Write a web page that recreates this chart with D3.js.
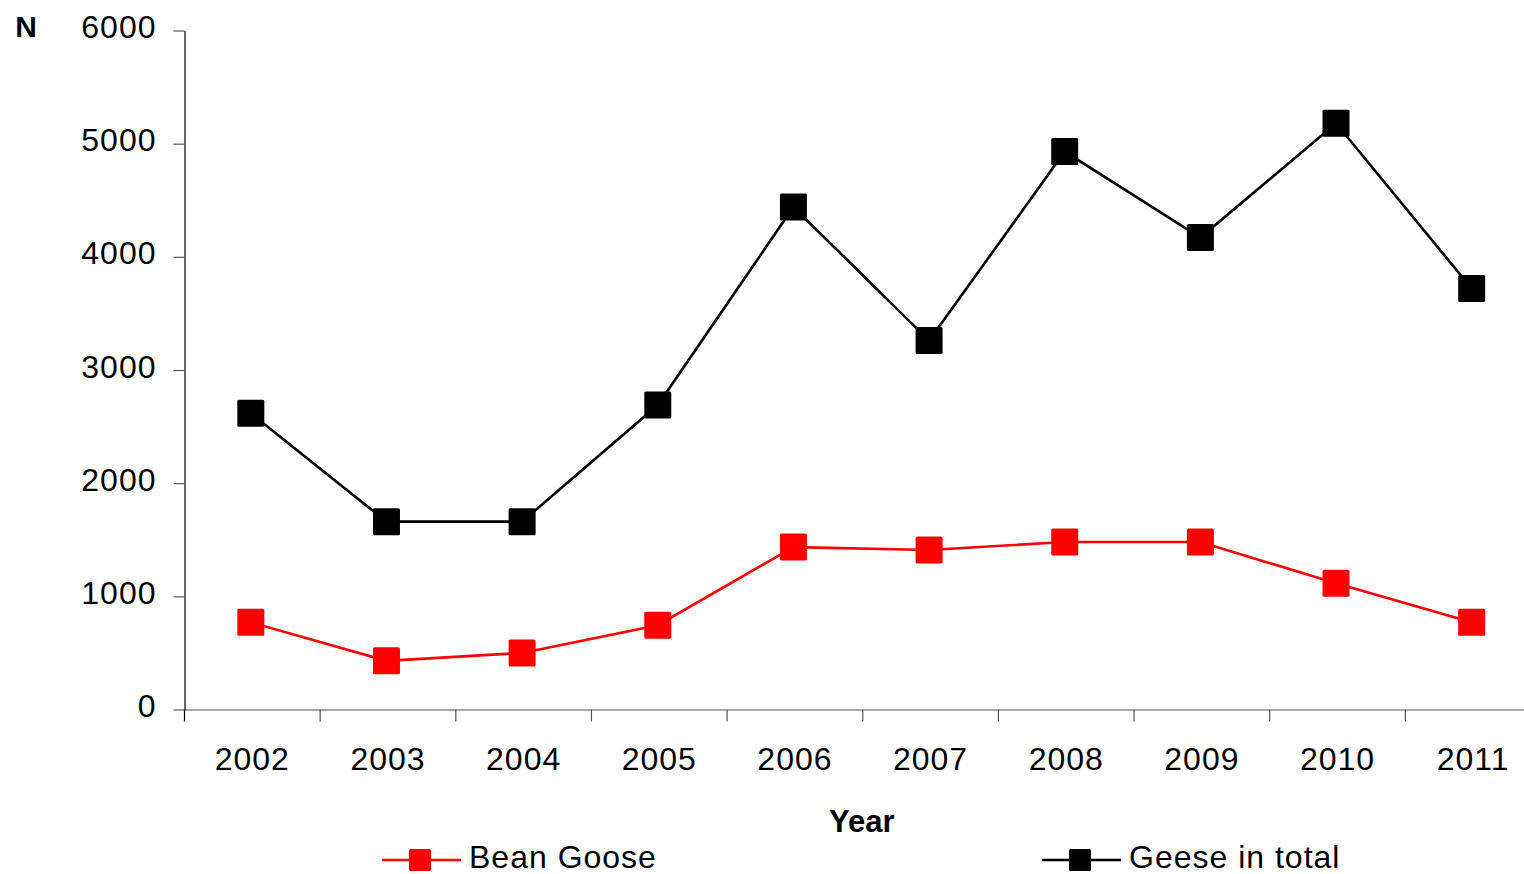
<!DOCTYPE html>
<html>
<head>
<meta charset="utf-8">
<script src="https://cdn.jsdelivr.net/npm/d3@7"></script>
<style>
  html, body { margin: 0; padding: 0; background: #fff; }
  svg { display: block; font-family: "Liberation Sans", Arial, sans-serif; }
</style>
</head>
<body>
<svg id="chart" width="1524" height="874"></svg>
<script>
// Goose counts per year
const years = ["2002", "2003", "2004", "2005", "2006", "2007", "2008", "2009", "2010", "2011"];
const beanGoose = [770, 430, 500, 745, 1435, 1410, 1480, 1480, 1115, 770];
const geeseTotal = [2617, 1660, 1660, 2690, 4440, 3260, 4930, 4170, 5180, 3720];
const yTicks = [0, 1000, 2000, 3000, 4000, 5000, 6000];

const series = [
  { name: "Bean Goose", values: beanGoose, color: "#ff0000" },
  { name: "Geese in total", values: geeseTotal, color: "#000000" }
];

const svg = d3.select("#chart");

const x = d3.scaleBand().domain(years).range([184.5, 1541]).padding(0);
const y = d3.scaleLinear().domain([0, 6000]).range([709.5, 30.5]);

// Y axis
const yAxis = svg.append("g")
  .attr("transform", `translate(${x.range()[0]},0)`)
  .call(d3.axisLeft(y).tickValues(yTicks).tickFormat(d3.format("d"))
    .tickSize(11).tickSizeOuter(0).tickPadding(17));
yAxis.select(".domain").attr("stroke", "#000").attr("stroke-width", 1.2);
yAxis.selectAll(".tick line").attr("stroke", "#555").attr("stroke-width", 1.2);
yAxis.selectAll(".tick text")
  .attr("font-size", 32).attr("letter-spacing", 1).attr("fill", "#000")
  .attr("font-family", "'Liberation Sans', Arial, sans-serif")
  .attr("dy", "0.22em");

// X axis: labels centred in each band, ticks on band boundaries
const xAxis = svg.append("g")
  .attr("transform", `translate(0,${y(0)})`)
  .call(d3.axisBottom(x).tickSize(0).tickSizeOuter(0).tickPadding(38));
xAxis.select(".domain").attr("stroke", "#555").attr("stroke-width", 1.2);
xAxis.selectAll(".tick text")
  .attr("font-size", 32).attr("letter-spacing", 1).attr("fill", "#000")
  .attr("font-family", "'Liberation Sans', Arial, sans-serif");

const boundaries = years.map(d => x(d)).concat([x.range()[1]]);
svg.append("g")
  .selectAll("line")
  .data(boundaries)
  .join("line")
  .attr("x1", d => d).attr("x2", d => d)
  .attr("y1", y(0)).attr("y2", y(0) + 12)
  .attr("stroke", (d, i) => i === 0 ? "#000" : "#555")
  .attr("stroke-width", 1.2);

// Axis titles
svg.append("text")
  .attr("x", 26).attr("y", 37)
  .attr("text-anchor", "middle")
  .attr("font-size", 30).attr("font-weight", "bold")
  .text("N");

svg.append("text")
  .attr("x", (x.range()[0] + x.range()[1]) / 2 - 1).attr("y", 832)
  .attr("text-anchor", "middle")
  .attr("font-size", 31).attr("font-weight", "bold")
  .text("Year");

// Series lines and square markers
const cx = d => x(d) + x.bandwidth() / 2 - 1.5;
const line = d3.line().x((v, i) => cx(years[i])).y(v => y(v));
const markerSize = 27;

series.forEach(s => {
  svg.append("path")
    .attr("d", line(s.values))
    .attr("fill", "none")
    .attr("stroke", s.color)
    .attr("stroke-width", 2.6);
  svg.append("g")
    .selectAll("rect")
    .data(s.values)
    .join("rect")
    .attr("x", (v, i) => cx(years[i]) - markerSize / 2)
    .attr("y", v => y(v) - markerSize / 2)
    .attr("width", markerSize).attr("height", markerSize)
    .attr("rx", 1.5)
    .attr("fill", s.color);
});

// Legend
const legendX = [382, 1042];
const legend = svg.append("g")
  .selectAll("g")
  .data(series)
  .join("g")
  .attr("transform", (d, i) => `translate(${legendX[i]},860)`);
legend.append("line")
  .attr("x1", 0).attr("x2", 79).attr("y1", 0).attr("y2", 0)
  .attr("stroke", d => d.color).attr("stroke-width", 2.6);
legend.append("rect")
  .attr("x", 38 - 11).attr("y", -11)
  .attr("width", 22).attr("height", 22).attr("rx", 1.5)
  .attr("fill", d => d.color);
legend.append("text")
  .attr("x", 87).attr("y", 8)
  .attr("font-size", 32).attr("letter-spacing", 1)
  .attr("fill", "#000")
  .text(d => d.name);
</script>
</body>
</html>
